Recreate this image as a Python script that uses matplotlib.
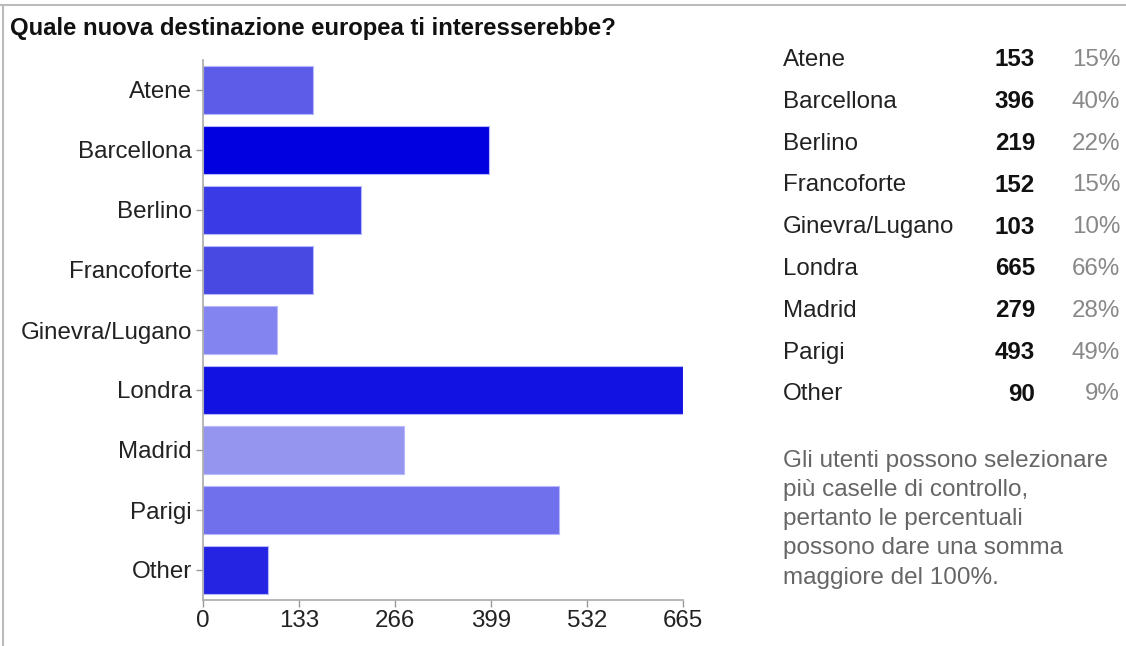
import matplotlib
matplotlib.use("Agg")
import matplotlib.pyplot as plt
from matplotlib.lines import Line2D

# data
cities = ["Atene", "Barcellona", "Berlino", "Francoforte", "Ginevra/Lugano",
          "Londra", "Madrid", "Parigi", "Other"]
counts = [153, 396, 219, 152, 103, 665, 279, 493, 90]
percents = ["15%", "40%", "22%", "15%", "10%", "66%", "28%", "49%", "9%"]
xticks = [0, 133, 266, 399, 532, 665]
bar_colors = ["#5c5ce8", "#0000e0", "#3a3ae6", "#4848e2", "#8484f0",
              "#1212e2", "#9595f0", "#7070ec", "#2424e2"]
title = "Quale nuova destinazione europea ti interesserebbe?"
note = ("Gli utenti possono selezionare\npiù caselle di controllo,\n"
        "pertanto le percentuali\npossono dare una somma\nmaggiore del 100%.")

plt.rcParams["font.family"] = ["Liberation Sans", "DejaVu Sans"]
fs = 17.4

fig = plt.figure(figsize=(11.26, 6.46), dpi=100)
ax = fig.add_axes([203 / 1126, 46 / 646, 480 / 1126, 540 / 646])

ypos = list(range(len(cities)))
ax.barh(ypos, counts, height=0.8, color=bar_colors, edgecolor="#b8b8ff", linewidth=0.8)
ax.set_ylim(len(cities) - 0.5, -0.5)
ax.set_xlim(0, 665)
ax.set_yticks(ypos)
ax.set_yticklabels(cities)
ax.set_xticks(xticks)
ax.set_xticklabels([str(t) for t in xticks])
ax.tick_params(axis="both", labelsize=fs, colors="#999999", labelcolor="#222222",
               length=5, width=1)
ax.tick_params(axis="y", pad=3)
ax.tick_params(axis="x", pad=2)
for s in ["top", "right"]:
    ax.spines[s].set_visible(False)
for s in ["left", "bottom"]:
    ax.spines[s].set_color("#aaaaaa")
    ax.spines[s].set_linewidth(1.2)

fig.text(10 / 1126, 1 - 29 / 646, title, fontsize=17.2, fontweight="bold",
         color="#111111", va="center", ha="left")

# table at right
for i, (c, n, p) in enumerate(zip(cities, counts, percents)):
    y = 1 - (60 + i * 41.8) / 646
    fig.text(783 / 1126, y, c, fontsize=fs, color="#222222", va="center", ha="left")
    fig.text(1035 / 1126, y, str(n), fontsize=fs, fontweight="bold", color="#111111",
             va="center", ha="right")
    fig.text(1120 / 1126, y, p, fontsize=fs, color="#888888", va="center", ha="right")

fig.text(783 / 1126, 1 - 450 / 646, note, fontsize=17.5, color="#666666",
         va="top", ha="left", linespacing=1.42)

# frame lines of the screenshot
fig.add_artist(Line2D([0, 1], [1 - 5 / 646, 1 - 5 / 646], color="#bbbbbb", lw=1.5,
                      transform=fig.transFigure))
fig.add_artist(Line2D([3 / 1126, 3 / 1126], [0, 1 - 5 / 646], color="#bbbbbb", lw=1.5,
                      transform=fig.transFigure))

fig.savefig("out.png", dpi=100)
